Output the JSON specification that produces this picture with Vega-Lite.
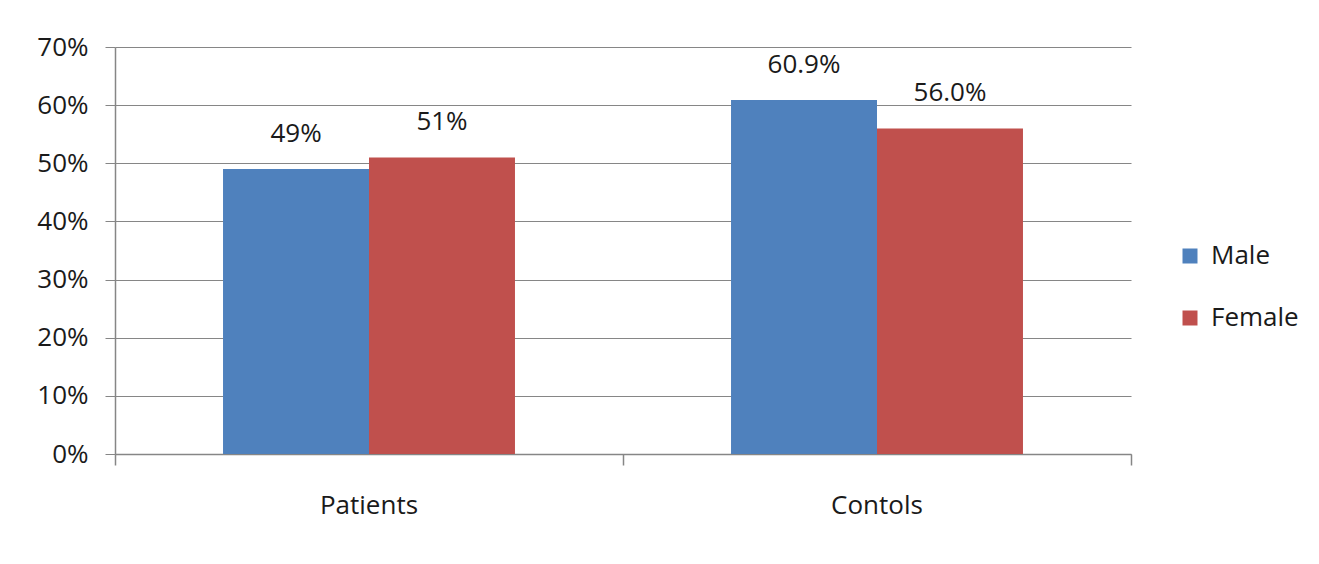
{
  "$schema": "https://vega.github.io/schema/vega-lite/v6.json",
  "autosize": {"type": "none"},
  "width": 1016,
  "height": 407,
  "padding": {"left": 115, "top": 47, "right": 188, "bottom": 110},
  "background": "white",
  "config": {
    "view": {"stroke": null},
    "font": "Open Sans",
    "axis": {"labelFont": "Open Sans", "labelColor": "#1a1a1a", "domainColor": "#868686", "tickColor": "#868686", "gridColor": "#868686"},
    "legend": {"labelFont": "Open Sans"}
  },
  "data": {
    "values": [
      {"group": "Patients", "sex": "Male", "value": 49, "label": "49%"},
      {"group": "Patients", "sex": "Female", "value": 51, "label": "51%"},
      {"group": "Contols", "sex": "Male", "value": 60.9, "label": "60.9%"},
      {"group": "Contols", "sex": "Female", "value": 56.0, "label": "56.0%"}
    ]
  },
  "encoding": {
    "x": {
      "field": "group", "type": "nominal", "sort": ["Patients", "Contols"],
      "scale": {"paddingInner": 0, "paddingOuter": 0}
    },
    "xOffset": {
      "field": "sex", "type": "nominal", "sort": ["Male", "Female"],
      "scale": {"paddingInner": 0, "paddingOuter": 0.74}
    },
    "y": {
      "field": "value", "type": "quantitative",
      "scale": {"domain": [0, 70], "nice": false}
    }
  },
  "resolve": {"axis": {"x": "independent"}},
  "layer": [
    {
      "mark": {"type": "bar"},
      "encoding": {
        "x": {
          "field": "group", "type": "nominal", "sort": ["Patients", "Contols"],
          "axis": {"title": null, "orient": "bottom", "labelAngle": 0, "labelFontSize": 26, "labelPadding": 38, "ticks": false, "domain": true, "domainWidth": 1.5, "grid": false}
        },
        "y": {
          "field": "value", "type": "quantitative",
          "axis": {
            "title": null, "values": [0, 10, 20, 30, 40, 50, 60, 70],
            "labelExpr": "datum.value + '%'", "labelFontSize": 26, "labelPadding": 17,
            "tickSize": 10, "domainWidth": 1.5, "grid": true, "gridWidth": 1.2
          }
        },
        "color": {
          "field": "sex", "type": "nominal", "sort": ["Male", "Female"],
          "scale": {"domain": ["Male", "Female"], "range": ["#4F81BD", "#C0504D"]},
          "legend": {
            "title": null, "orient": "none", "legendX": 1062, "legendY": 196,
            "symbolType": "square", "symbolSize": 225, "symbolStrokeWidth": 0,
            "labelFontSize": 26, "labelOffset": 8, "rowPadding": 36, "labelColor": "#1a1a1a"
          }
        }
      }
    },
    {
      "mark": {"type": "text", "baseline": "bottom", "dy": -22, "fontSize": 26, "color": "#1a1a1a"},
      "encoding": {
        "x": {
          "field": "group", "type": "nominal", "sort": ["Patients", "Contols"],
          "axis": {"title": null, "orient": "bottom", "labels": false, "domain": false, "grid": false, "ticks": true, "tickSize": 11, "tickWidth": 1.5, "bandPosition": 1, "tickExtra": true}
        },
        "text": {"field": "label"}
      }
    }
  ]
}
